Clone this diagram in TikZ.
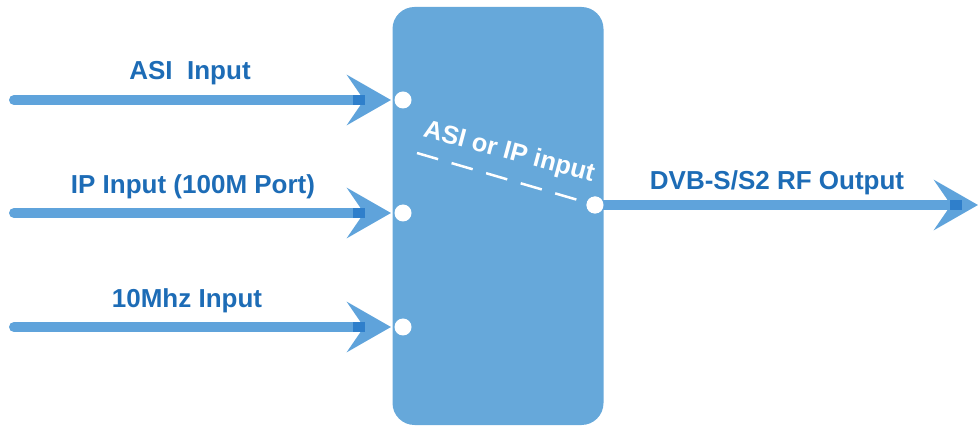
\documentclass[tikz,border=0pt]{standalone}
\usepackage{fontspec}
\setmainfont{Liberation Sans}
\usetikzlibrary{arrows.meta}
\definecolor{boxblue}{HTML}{66A8DA}
\definecolor{arrblue}{HTML}{5FA3DB}
\definecolor{txtblue}{HTML}{1D6CB6}
\definecolor{darkov}{HTML}{2F7FCB}
\begin{document}
\begin{tikzpicture}[x=1pt,y=1pt,
  sig/.style={draw=arrblue,line width=10pt,line cap=round,
    -{Stealth[length=44pt,width=50pt,inset=17pt]}},
  port/.style={circle,fill=white,inner sep=0pt,minimum size=17pt},
  lbl/.style={text=txtblue,font=\fontsize{26}{30}\selectfont\bfseries,inner sep=0pt}]
\useasboundingbox (0,0) rectangle (979,428);
\node[fill=boxblue,rounded corners=22pt,minimum width=211pt,minimum height=418pt,inner sep=0pt] (box) at (498,212) {};
% input arrows
\coordinate (s1) at (14,328);
\coordinate (s2) at (14,215);
\coordinate (s3) at (14,101);
\coordinate (t1) at (391,328);
\coordinate (t2) at (391,215);
\coordinate (t3) at (391,101);
\draw[sig] (s1) -- (t1);
\draw[sig] (s2) -- (t2);
\draw[sig] (s3) -- (t3);
\fill[darkov] (353,323) rectangle (365,333);
\fill[darkov] (353,210) rectangle (365,220);
\fill[darkov] (353,96) rectangle (365,106);
\node[port] (p1) at (403,328) {};
\node[port] (p2) at (403,215) {};
\node[port] (p3) at (403,101) {};
\node[port] (po) at (595,223) {};
\coordinate (o2) at (978,223);
\draw[sig] (po.east) -- (o2);
\fill[darkov] (950,218) rectangle (962,228);
\node[port] at (595,223) {};
\coordinate (d1) at (417,275);
\draw[white,line width=2.5pt,dash pattern=on 22pt off 14pt] (d1) -- (po.center);
\node[text=white,font=\fontsize{25.5}{28}\selectfont\bfseries,rotate=-15,inner sep=0pt] (mid) at (509,275) {ASI or IP input};
\node[lbl] (l1) at (190,355) {ASI\ \ Input};
\node[lbl] (l2) at (193,241) {IP Input (100M Port)};
\node[lbl] (l3) at (187,127) {10Mhz Input};
\node[lbl] (l4) at (777,245) {DVB-S/S2 RF Output};
\end{tikzpicture}
\end{document}
